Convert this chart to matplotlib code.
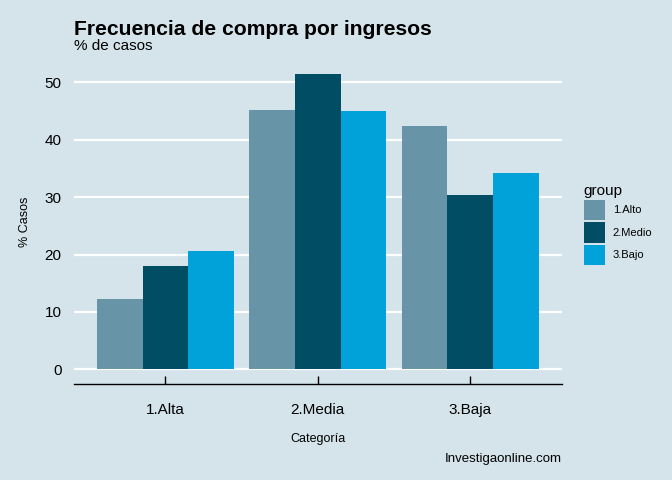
import matplotlib
matplotlib.use("Agg")
import matplotlib.pyplot as plt
import numpy as np
from matplotlib.patches import Patch

plt.rcParams["font.family"] = ["Liberation Sans", "DejaVu Sans"]

categories = ["1.Alta", "2.Media", "3.Baja"]
groups = ["1.Alto", "2.Medio", "3.Bajo"]
values = {
    "1.Alto": [12.2, 45.2, 42.4],
    "2.Medio": [18.0, 51.5, 30.4],
    "3.Bajo": [20.6, 45.0, 34.2],
}
colors = ["#6794a7", "#014d64", "#01a2d9"]
bg = "#d5e4eb"

fig = plt.figure(figsize=(6.72, 4.8), dpi=100, facecolor=bg)
ax = fig.add_axes([0.110, 0.200, 0.726, 0.677])
ax.set_facecolor(bg)

x = np.arange(1, len(categories) + 1)
w = 0.3
for i, g in enumerate(groups):
    ax.bar(x + (i - 1) * w, values[g], width=w, color=colors[i], zorder=3, label=g)

ymax = max(max(v) for v in values.values())
pad = ymax * 0.05
ax.set_xlim(0.4, 3.6)
ax.set_ylim(-pad, ymax + pad)
ax.set_yticks([0, 10, 20, 30, 40, 50])
ax.set_xticks(x)
ax.set_xticklabels(categories)
ax.grid(axis="y", color="white", linewidth=1.6, zorder=1)
ax.grid(axis="x", visible=False)
for s in ["top", "right", "left"]:
    ax.spines[s].set_visible(False)
ax.spines["bottom"].set_color("black")
ax.spines["bottom"].set_linewidth(1.0)
ax.tick_params(axis="y", length=0, labelsize=11, pad=9)
ax.tick_params(axis="x", direction="in", length=5.5, width=1.0, labelsize=11, pad=14)

ax.set_xlabel("Categoría", fontsize=9, labelpad=11)
ax.set_ylabel("% Casos", fontsize=9, labelpad=10)

fig.text(0.110, 0.938, "Frecuencia de compra por ingresos", fontsize=15.2,
         fontweight="bold", ha="left", va="center")
fig.text(0.110, 0.905, "% de casos", fontsize=11, ha="left", va="center")
fig.text(0.836, 0.043, "Investigaonline.com", fontsize=9.5, ha="right", va="center")

handles = [Patch(facecolor=c, edgecolor="none", label=g) for g, c in zip(groups, colors)]
leg = fig.legend(handles=handles, title="group", loc="upper left",
                 bbox_to_anchor=(0.862, 0.626), frameon=False, fontsize=8,
                 title_fontsize=11, handlelength=1.9, handleheight=2.5,
                 handletextpad=0.7, labelspacing=0.15, borderaxespad=0)
leg._legend_box.align = "left"

fig.savefig("out.png", dpi=100, facecolor=bg)
